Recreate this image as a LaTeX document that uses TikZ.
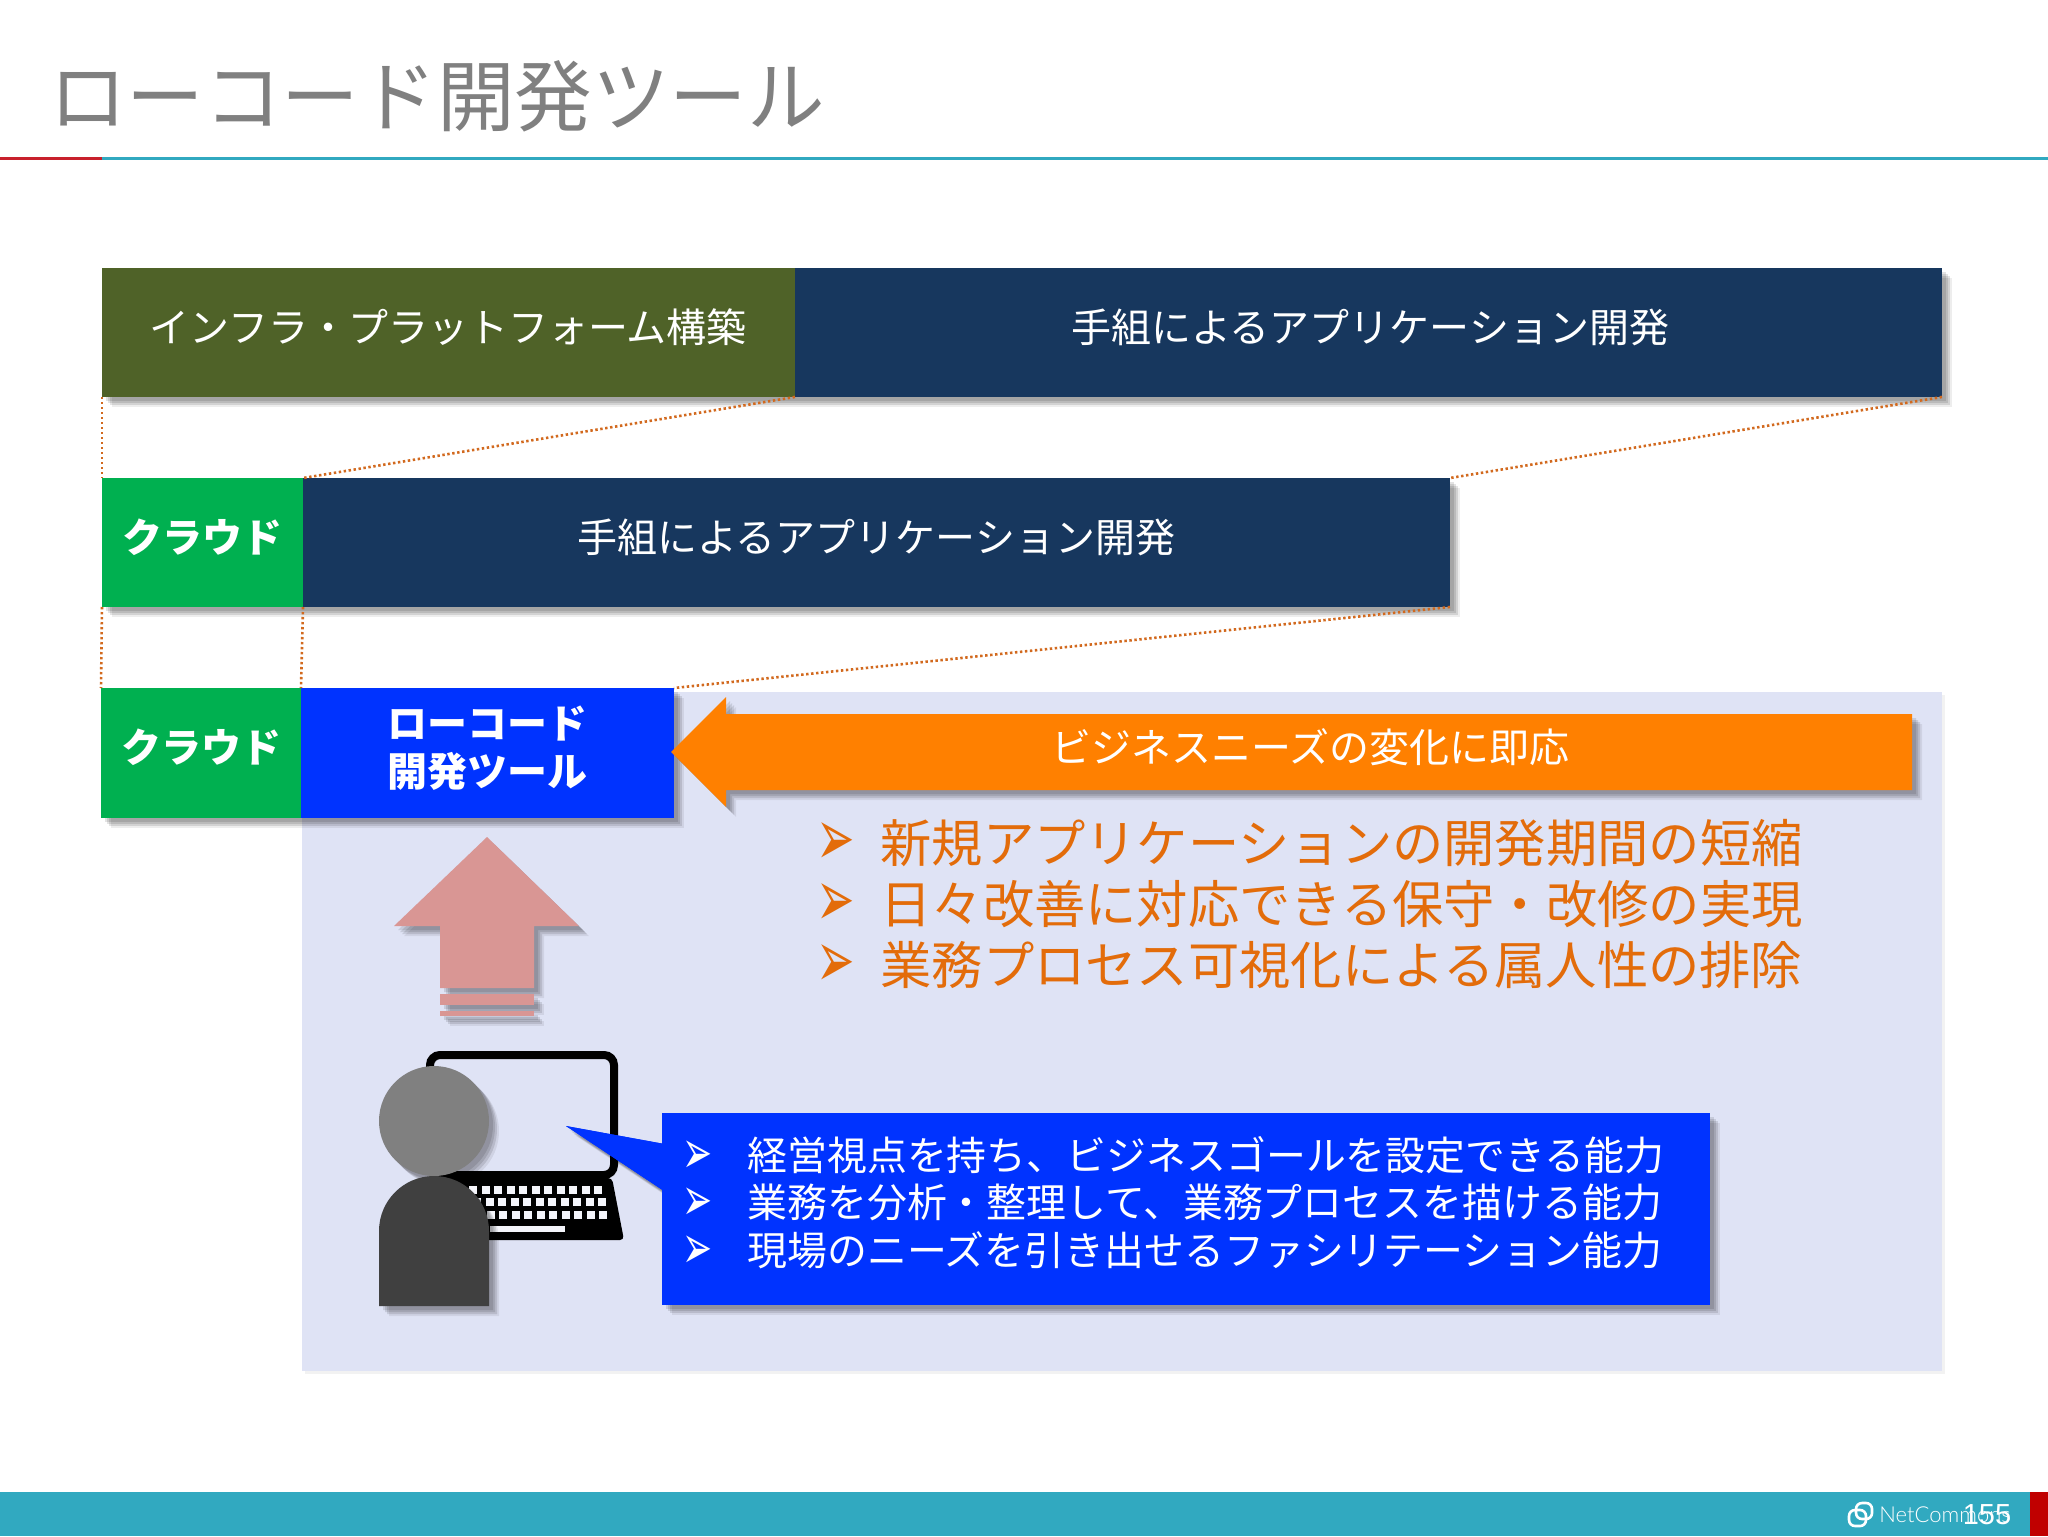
\documentclass[tikz,border=0pt]{standalone}
\usepackage{fontspec}
\setmainfont{Noto Sans CJK JP}
\newfontfamily\bulletfont{DejaVu Sans}
\newfontfamily\logofont{Lato Light}
\newfontfamily\numfont{Liberation Sans}
\usetikzlibrary{shadows}
\definecolor{barolive}{HTML}{4F6228}
\definecolor{barnavy}{HTML}{17375E}
\definecolor{bargreen}{HTML}{00B050}
\definecolor{barblue}{HTML}{0033FF}
\definecolor{barorange}{HTML}{FF8000}
\definecolor{txtorange}{HTML}{E36C0A}
\definecolor{panelbg}{HTML}{DFE3F5}
\definecolor{tealbar}{HTML}{31A9C0}
\definecolor{redbar}{HTML}{C00000}
\definecolor{linered}{HTML}{C8202C}
\definecolor{pinkarrow}{HTML}{D99694}
\definecolor{dotline}{HTML}{D2691E}
\tikzset{
  softshadow/.style={
    general shadow={fill=black,opacity=.07,shadow xshift=5pt,shadow yshift=-5pt},
    general shadow={fill=black,opacity=.11,shadow xshift=4pt,shadow yshift=-4pt},
    general shadow={fill=black,opacity=.11,shadow xshift=3pt,shadow yshift=-3pt},
    general shadow={fill=black,opacity=.11,shadow xshift=2pt,shadow yshift=-2pt}},
  bar/.style={rectangle,inner sep=0pt,outer sep=0pt,softshadow},
  lbl/.style={white,font=\fontsize{20}{24}\selectfont,inner sep=0pt,align=center},
  lblb/.style={lbl,font=\fontsize{20}{24}\selectfont\bfseries},
  zoomline/.style={dotline,line width=1.3pt,dash pattern=on 1.2pt off 1.3pt},
  bigtext/.style={txtorange,font=\fontsize{25.65}{30}\selectfont,anchor=west,inner sep=0pt},
  smalltext/.style={white,font=\fontsize{19.95}{24}\selectfont,anchor=west,inner sep=0pt},
  bigbullet/.style={txtorange,font=\fontsize{23}{24}\bulletfont,inner sep=0pt,yscale=1.75},
  smallbullet/.style={white,font=\fontsize{18}{20}\bulletfont,inner sep=0pt,yscale=1.7},
}
\begin{document}
\begin{tikzpicture}[x=0.5pt,y=-0.5pt]
\useasboundingbox (0,0) rectangle (2048,1536);
\fill[white] (0,0) rectangle (2048,1536);
% title
\node[text=black!50,font=\fontsize{38.8}{44}\selectfont,inner sep=0pt] (title) at (437,96) {ローコード開発ツール};
\coordinate (ruleL) at (0,158);
\coordinate (ruleM) at (102,158);
\coordinate (ruleR) at (2048,158);
\draw[tealbar,line width=1.5pt] (ruleM) -- (ruleR);
\draw[linered,line width=1.5pt] (ruleL) -- (ruleM);
% panel
\node[rectangle,inner sep=0pt,fill=panelbg,minimum width=820pt,minimum height=339.5pt,
  general shadow={fill=black,opacity=.05,shadow xshift=1.5pt,shadow yshift=-1.5pt}] (panel) at (1122,1031.5) {};
% row 1
\node[bar,fill=barolive,minimum width=346.5pt,minimum height=64.5pt] (olive) at (448.5,332.5) {};
\node[bar,fill=barnavy,minimum width=573.5pt,minimum height=64.5pt] (navyA) at (1368.5,332.5) {};
\node[lbl] (oliveT) at (448,327) {インフラ・プラットフォーム構築};
\node[lbl] (navyAT) at (1370,327) {手組によるアプリケーション開発};
% row 2
\node[bar,fill=bargreen,minimum width=100.5pt,minimum height=64.5pt] (cloudA) at (202.5,542.5) {};
\node[bar,fill=barnavy,minimum width=573.5pt,minimum height=64.5pt] (navyB) at (876.5,542.5) {};
\node[lblb] (cloudAT) at (202,537) {クラウド};
\node[lbl] (navyBT) at (876,537) {手組によるアプリケーション開発};
% row 3
\node[bar,fill=bargreen,minimum width=100pt,minimum height=65pt] (cloudB) at (201,753) {};
\node[bar,fill=barblue,minimum width=186.5pt,minimum height=65pt] (tool) at (487.5,753) {};
\node[lblb] (cloudBT) at (201,747) {クラウド};
\node[lblb] (toolT) at (487,748) {ローコード\\開発ツール};
% dotted connectors
\draw[zoomline] (olive.south west) -- (cloudA.north west);
\draw[zoomline] (olive.south east) -- (cloudA.north east);
\draw[zoomline] (navyA.south east) -- (navyB.north east);
\draw[zoomline] (cloudA.south west) -- (cloudB.north west);
\draw[zoomline] (cloudA.south east) -- (cloudB.north east);
\draw[zoomline] (navyB.south east) -- (tool.north east);
% orange arrow
\path[fill=barorange,softshadow] (671,752) -- (726,697) -- (726,714) -- (1912,714) -- (1912,790) -- (726,790) -- (726,807) -- cycle;
\node[lbl] (needs) at (1310,747) {ビジネスニーズの変化に即応};
% orange list
\node[bigbullet] (b1) at (836,844) {➢};
\node[bigbullet] (b2) at (836,905) {➢};
\node[bigbullet] (b3) at (836,966) {➢};
\node[bigtext] (t1) at (880,843) {新規アプリケーションの開発期間の短縮};
\node[bigtext] (t2) at (880,904) {日々改善に対応できる保守・改修の実現};
\node[bigtext] (t3) at (880,965) {業務プロセス可視化による属人性の排除};
% up arrow
\path[fill=pinkarrow,softshadow] (487,837) -- (579,926) -- (534,926) -- (534,988) -- (440,988) -- (440,926) -- (394,926) -- cycle;
\path[fill=pinkarrow,softshadow] (440,994) rectangle (534,1005);
\path[fill=pinkarrow,softshadow] (440,1011) rectangle (534,1016);
% laptop
\draw[black,line width=4pt,rounded corners=5pt,general shadow={fill=none,draw=black,opacity=.12,shadow xshift=1.5pt,shadow yshift=-1.5pt}] (430,1055) rectangle (614,1175);
\path[fill=black,rounded corners=2pt] (440,1178) -- (612,1178) -- (624,1240) -- (440,1240) -- cycle;
\foreach \r/\yy/\xs in {0/1190/473,1/1202/477,2/1215/478}{
  \foreach \c in {0,...,10}{
    \fill[panelbg!35!white] ({\xs+12.5*\c-4},{\yy-4}) rectangle ({\xs+12.5*\c+4},{\yy+4});
  }
}
\fill[panelbg!35!white] (490,1226) rectangle (565,1232);
% person
\path[fill=black!50,softshadow] (434,1121) circle (55);
\path[fill=black!75,softshadow] (379,1306) -- (379,1231) arc[start angle=180,end angle=0,x radius=55,y radius=-55] -- (489,1306) -- cycle;
% blue callout
\path[fill=barblue,softshadow] (566,1126) -- (670,1145) -- (670,1195) -- cycle;
\node[bar,fill=barblue,minimum width=524pt,minimum height=96pt] (skills) at (1186,1209) {};
\path[fill=barblue] (566,1126) -- (670,1145) -- (670,1195) -- cycle;
\node[smallbullet] (s1) at (698,1157) {➢};
\node[smallbullet] (s2) at (698,1204) {➢};
\node[smallbullet] (s3) at (698,1252) {➢};
\node[smalltext] (u1) at (747,1155) {経営視点を持ち、ビジネスゴールを設定できる能力};
\node[smalltext] (u2) at (747,1202) {業務を分析・整理して、業務プロセスを描ける能力};
\node[smalltext] (u3) at (747,1250) {現場のニーズを引き出せるファシリテーション能力};
% footer
\fill[tealbar] (0,1492) rectangle (2030,1536);
\fill[redbar] (2030,1492) rectangle (2048,1536);
\draw[white,line width=1.3pt,rounded corners=3pt] (1849,1510) rectangle (1866,1526);
\draw[white,line width=1.3pt,rounded corners=3pt] (1856,1503) rectangle (1872,1519);
\node[white,font=\fontsize{11}{14}\logofont,anchor=west,inner sep=0pt] (logo) at (1879,1515) {NetCommons};
\node[white,font=\fontsize{14.5}{16}\numfont,inner sep=0pt] (page) at (1987,1515) {155};
\end{tikzpicture}
\end{document}
